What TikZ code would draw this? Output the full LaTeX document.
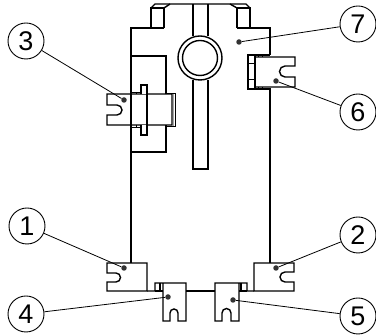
\documentclass[tikz,border=0pt]{standalone}
\usepackage{fontspec}
\setmainfont{Liberation Sans}
\definecolor{ink}{gray}{0}
\tikzset{
  part/.style={draw=ink,line width=1.4pt,line join=miter},
  thinpart/.style={draw=ink,line width=0.8pt},
  band/.style={draw=gray!70,line width=1.6pt},
  callout/.style={circle,draw=ink,line width=0.9pt,minimum size=36pt,inner sep=0pt,font=\fontsize{27}{27}\selectfont,text=ink},
  anchordot/.style={circle,fill=ink!80,inner sep=0pt,minimum size=5.5pt},
  leader/.style={draw=ink,line width=0.8pt}
}
\begin{document}
\begin{tikzpicture}[x=1pt,y=-1pt]
\useasboundingbox (0,0) rectangle (376,336);
% body
\draw[part] (164,28) -- (131,28) -- (131,263);
\draw[part] (237,28) -- (270,28) -- (270,55);
\draw[part] (270,88) -- (270,263);
\draw[part] (164,28) -- (164,8) -- (151,8) -- (151,28);
\draw[part] (237,28) -- (237,8) -- (250,8) -- (250,28);
\draw[part] (151,8) -- (155,4) -- (246,4) -- (250,8);
\draw[part] (164,8) -- (170,4);
\draw[part] (237,8) -- (230,4);
% stem and boss
\draw[part] (193,4) -- (193,36);
\draw[part] (208,4) -- (208,36);
\draw[part] (193,80) -- (193,169) -- (208,169) -- (208,80);
\draw[part] (200,58) circle[radius=22];
\draw[part] (200,58) circle[radius=17.5];
% left plate behind clip 3
\draw[part] (131,56) -- (166,56) -- (166,94);
\draw[part] (166,125) -- (166,152) -- (131,152);
% clip 3
\draw[band] (173.5,93) -- (173.5,126);
\draw[thinpart] (166,93) -- (175,93) -- (175,126) -- (166,126);
\draw[part] (107,94) -- (172,94) -- (172,125) -- (107,125) -- (107,115) -- (117,115) arc[start angle=90,end angle=-90,radius=5] -- (107,105) -- cycle;
\draw[part] (147,94) -- (147,125);
\draw[part,fill=white] (141,94) -- (141,85) -- (147,85) -- (147,94);
\draw[part,fill=white] (141,125) -- (141,135) -- (147,135) -- (147,125);
\draw[thinpart] (136,92) -- (136,94) (131,92) -- (141,92);
\draw[thinpart] (136,125) -- (136,127) (131,127) -- (141,127);
% clip 6
\draw[part] (270,55) -- (248,55) -- (248,89) -- (270,89);
\draw[part] (255,55) -- (255,89);
\draw[thinpart] (248,63) -- (255,63) (248,79) -- (255,79);
\draw[thinpart] (258,55) -- (258,57) (262,55) -- (262,57) (258,87) -- (258,89) (262,87) -- (262,89);
\draw[part] (255,57) -- (295,57) -- (295,66) -- (285,66) arc[start angle=-90,end angle=-270,radius=5.5] -- (295,77) -- (295,87) -- (255,87);
% clip 1
\draw[part] (107,263) -- (147,263) -- (147,291) -- (107,291) -- (107,282) -- (116,282) arc[start angle=90,end angle=-90,radius=4.5] -- (107,273) -- cycle;
% clip 2
\draw[part] (294,263) -- (254,263) -- (254,291) -- (294,291) -- (294,282) -- (285,282) arc[start angle=90,end angle=270,radius=5] -- (294,272) -- cycle;
% clip 4
\draw[part] (147,291) -- (155,291) -- (155,283) -- (186,283) -- (186,321) -- (178,321) -- (178,313) arc[start angle=0,end angle=-180,radius=4] -- (170,321) -- (163,321) -- (163,283);
\draw[part] (155,291) -- (163,291);
\draw[part] (160,283) -- (160,291);
\draw[part] (186,291) -- (215,291);
% clip 5
\draw[part] (254,291) -- (247,291) -- (247,283) -- (215,283) -- (215,321) -- (222,321) -- (222,313) arc[start angle=180,end angle=360,radius=4.5] -- (231,321) -- (239,321) -- (239,283);
\draw[part] (239,291) -- (247,291);
\draw[part] (241,283) -- (241,291);
% callouts
\node[callout] (c3) at (26,41) {3};
\node[callout] (c7) at (358,24) {7};
\node[callout] (c6) at (358,112) {6};
\node[callout] (c1) at (27,226) {1};
\node[callout] (c2) at (358,235) {2};
\node[callout] (c4) at (26,314) {4};
\node[callout] (c5) at (358,316) {5};
\node[anchordot] (d3) at (124,100) {};
\node[anchordot] (d7) at (239,42) {};
\node[anchordot] (d6) at (276,81) {};
\node[anchordot] (d1) at (124,268) {};
\node[anchordot] (d2) at (276,268) {};
\node[anchordot] (d4) at (168,297) {};
\node[anchordot] (d5) at (233,300) {};
\draw[leader] (c3) -- (d3);
\draw[leader] (c7) -- (d7);
\draw[leader] (c6) -- (d6);
\draw[leader] (c1) -- (d1);
\draw[leader] (c2) -- (d2);
\draw[leader] (c4) -- (d4);
\draw[leader] (c5) -- (d5);
\end{tikzpicture}
\end{document}
